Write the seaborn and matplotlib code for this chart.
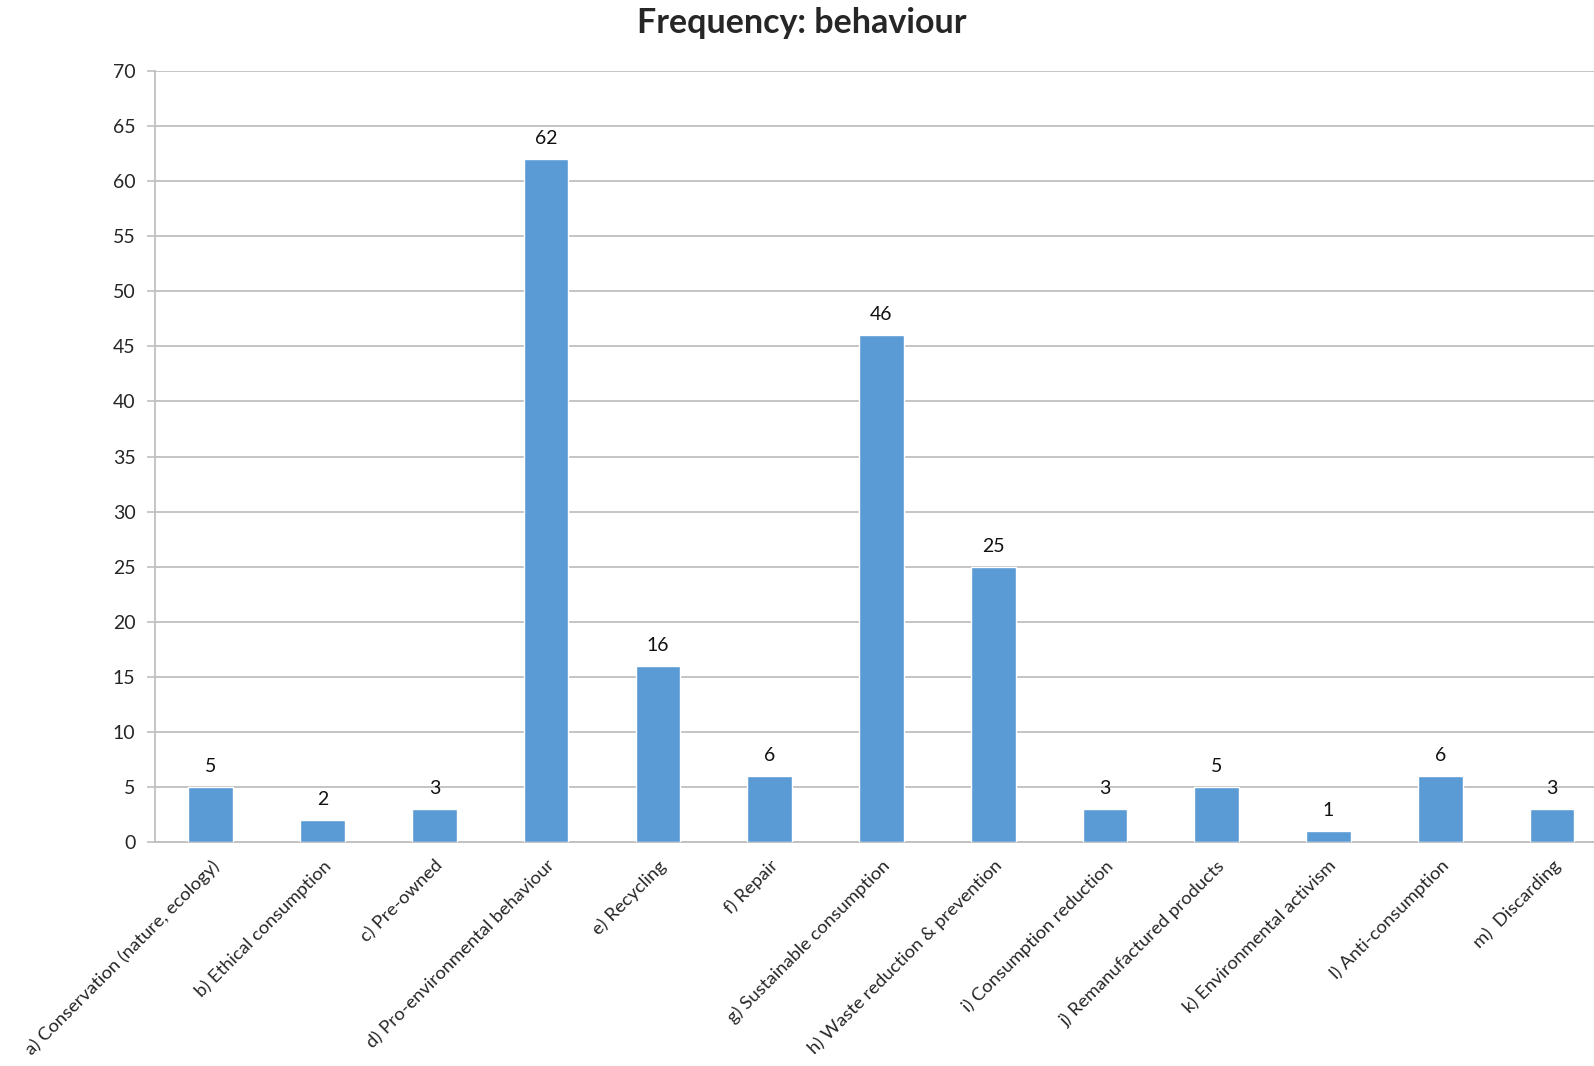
import matplotlib
matplotlib.use("Agg")
import matplotlib.pyplot as plt
import numpy as np
import pandas as pd
import seaborn as sns

categories = [
    "a) Conservation (nature, ecology)",
    "b) Ethical consumption",
    "c) Pre-owned",
    "d) Pro-environmental behaviour",
    "e) Recycling",
    "f) Repair",
    "g) Sustainable consumption",
    "h) Waste reduction & prevention",
    "i) Consumption reduction",
    "j) Remanufactured products",
    "k) Environmental activism",
    "l) Anti-consumption",
    "m)  Discarding",
]
counts = [5, 2, 3, 62, 16, 6, 46, 25, 3, 5, 1, 6, 3]
y_ticks = list(range(0, 75, 5))

sns.set_theme(style="white")
plt.rcParams["font.family"] = ["Lato", "DejaVu Sans"]

df = pd.DataFrame({"category": categories, "count": counts})

fig = plt.figure(figsize=(15.94, 10.66), dpi=100)
# the plot area runs slightly past the right edge of the canvas
ax = fig.add_axes([0.0972, 0.2101, 0.9115, 0.7233])

sns.barplot(data=df, x="category", y="count", color="#5B9BD5",
            width=0.4, saturation=1, ax=ax, zorder=3)

grid_col = "#BFBFBF"
ax.set_ylim(0, 70)
ax.set_xlim(-0.5, len(categories) - 0.5)
ax.set_yticks(y_ticks)
ax.set_yticklabels([str(t) for t in y_ticks], fontsize=14)
ax.yaxis.grid(True, color=grid_col, linewidth=1.3, zorder=0)
ax.set_axisbelow(True)

ax.set_xticks(np.arange(len(categories)))
ax.set_xticklabels(categories, rotation=45, ha="right",
                   rotation_mode="anchor", fontsize=13.3)
ax.set_xticks(np.arange(-0.5, len(categories), 1.0), minor=True)
ax.tick_params(axis="x", which="major", length=0, pad=11)
ax.tick_params(axis="x", which="minor", length=7, width=1.2,
               color=grid_col, direction="out")
ax.tick_params(axis="y", length=6, width=1.2, color=grid_col,
               direction="out", pad=8, left=True)

for side in ["top", "right"]:
    ax.spines[side].set_visible(False)
for side in ["left", "bottom"]:
    ax.spines[side].set_color(grid_col)
    ax.spines[side].set_linewidth(1.3)

ax.set_xlabel("")
ax.set_ylabel("")

for i, v in enumerate(counts):
    ax.text(i, v + 1.1, str(v), ha="center", va="bottom", fontsize=14,
            color="#111111")

fig.suptitle("Frequency: behaviour", x=0.503, y=0.993, fontsize=24.5,
             fontweight="bold", va="top")

fig.savefig("out.png", dpi=100)
